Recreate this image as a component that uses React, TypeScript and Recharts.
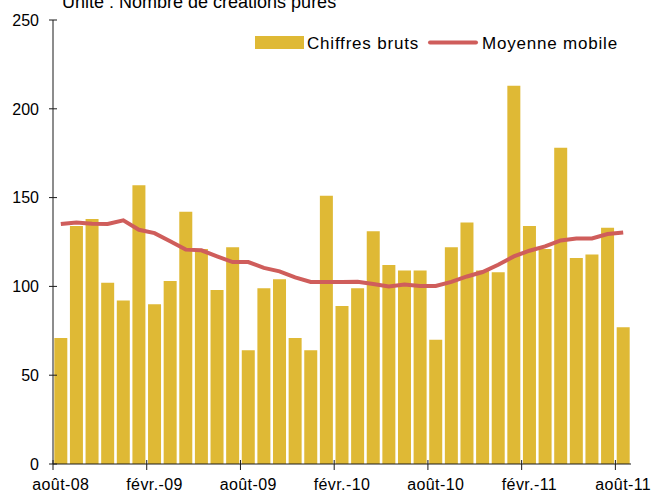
import React from 'react';
import { ComposedChart, Bar, Line, XAxis, YAxis } from 'recharts';

const months = [
  'août-08', 'sept.-08', 'oct.-08', 'nov.-08', 'déc.-08',
  'janv.-09', 'févr.-09', 'mars-09', 'avr.-09', 'mai-09', 'juin-09', 'juil.-09',
  'août-09', 'sept.-09', 'oct.-09', 'nov.-09', 'déc.-09',
  'janv.-10', 'févr.-10', 'mars-10', 'avr.-10', 'mai-10', 'juin-10', 'juil.-10',
  'août-10', 'sept.-10', 'oct.-10', 'nov.-10', 'déc.-10',
  'janv.-11', 'févr.-11', 'mars-11', 'avr.-11', 'mai-11', 'juin-11', 'juil.-11',
  'août-11',
];

const rawCounts = [
  71, 134, 138, 102, 92,
  157, 90, 103, 142, 121, 98, 122,
  64, 99, 104, 71, 64,
  151, 89, 99, 131, 112, 109, 109,
  70, 122, 136, 109, 108,
  213, 134, 121, 178, 116, 118, 133,
  77,
];

const movingAverage = [
  135.1, 136.0, 135.3, 135.1, 137.2,
  131.9, 130.0, 125.4, 120.7, 120.3, 116.9, 113.7,
  113.7, 110.4, 108.5, 105.1, 102.5,
  102.5, 102.5, 102.6, 101.3, 100.0, 101.1, 100.2,
  100.2, 102.5, 105.6, 108.1, 112.2,
  116.9, 120.1, 122.5, 125.9, 127.0, 127.0, 129.5,
  130.4,
];

const yTicks = [0, 50, 100, 150, 200, 250];
const labelEvery = 6;

const seriesNames = { brut: 'Chiffres bruts', moyenne: 'Moyenne mobile' };
const titleText = 'Unité : Nombre de créations pures';

const data = months.map((m, i) => ({ month: m, brut: rawCounts[i], moyenne: movingAverage[i] }));

const W = 652;
const H = 494;
const MARGIN = { top: 20, right: 21, left: 0, bottom: 0 };
const Y_AXIS_W = 53;
const X_AXIS_H = 30;
const BAND = (W - MARGIN.left - MARGIN.right - Y_AXIS_W) / months.length;

const FONT = "'Liberation Sans', Arial, sans-serif";
const BAR_COLOR = '#DFB935';
const LINE_COLOR = '#CF5D5B';
const AXIS_COLOR = '#1a1a1a';

const XTick = (props: any) => {
  const { x, y, payload } = props;
  const idx = months.indexOf(payload.value);
  if (idx % labelEvery !== 0) return <g />;
  const lx = x - BAND / 2;
  return (
    <g>
      <line x1={lx} x2={lx} y1={y - 4} y2={y + 6} stroke={AXIS_COLOR} strokeWidth={1} />
      <text x={x} y={y + 26} textAnchor="middle" fontFamily={FONT} fontSize={16} letterSpacing={0.4} fill="#000">
        {payload.value}
      </text>
    </g>
  );
};

const YTick = (props: any) => {
  const { x, y, payload } = props;
  return (
    <g>
      <line x1={x - 4} x2={x + 4} y1={y} y2={y} stroke={AXIS_COLOR} strokeWidth={1} />
      <text x={x - 14} y={y} dy="0.36em" textAnchor="end" fontFamily={FONT} fontSize={16} fill="#000">
        {payload.value}
      </text>
    </g>
  );
};

export default function App() {
  return (
    <div style={{ position: 'absolute', left: 0, top: 0, width: W, height: H, background: '#fff', overflow: 'hidden' }}>
      <ComposedChart width={W} height={H} data={data} margin={MARGIN} barCategoryGap="8.4%">
        <XAxis
          dataKey="month"
          interval={0}
          height={X_AXIS_H}
          tick={<XTick />}
          tickLine={false}
          tickSize={0}
          tickMargin={0}
          axisLine={{ stroke: AXIS_COLOR, strokeWidth: 1 }}
        />
        <YAxis
          domain={[0, 250]}
          ticks={yTicks}
          width={Y_AXIS_W}
          tick={<YTick />}
          tickLine={false}
          tickSize={0}
          tickMargin={0}
          axisLine={{ stroke: AXIS_COLOR, strokeWidth: 1 }}
          allowDataOverflow
        />
        <Bar dataKey="brut" name={seriesNames.brut} fill={BAR_COLOR} isAnimationActive={false} />
        <Line
          dataKey="moyenne"
          name={seriesNames.moyenne}
          type="linear"
          stroke={LINE_COLOR}
          strokeWidth={4}
          dot={false}
          activeDot={false}
          isAnimationActive={false}
        />
      </ComposedChart>
      <svg width={W} height={60} style={{ position: 'absolute', left: 0, top: 0, pointerEvents: 'none' }}>
        <text x={62} y={7.5} fontFamily={FONT} fontSize={18} fill="#000">{titleText}</text>
        <rect x={255} y={36} width={49} height={13} fill={BAR_COLOR} />
        <text x={307} y={48.5} fontFamily={FONT} fontSize={17} letterSpacing={0.8} fill="#000">{seriesNames.brut}</text>
        <line x1={430} x2={476} y1={42.5} y2={42.5} stroke={LINE_COLOR} strokeWidth={4} strokeLinecap="round" />
        <text x={482} y={48.5} fontFamily={FONT} fontSize={17} letterSpacing={0.8} fill="#000">{seriesNames.moyenne}</text>
      </svg>
    </div>
  );
}
